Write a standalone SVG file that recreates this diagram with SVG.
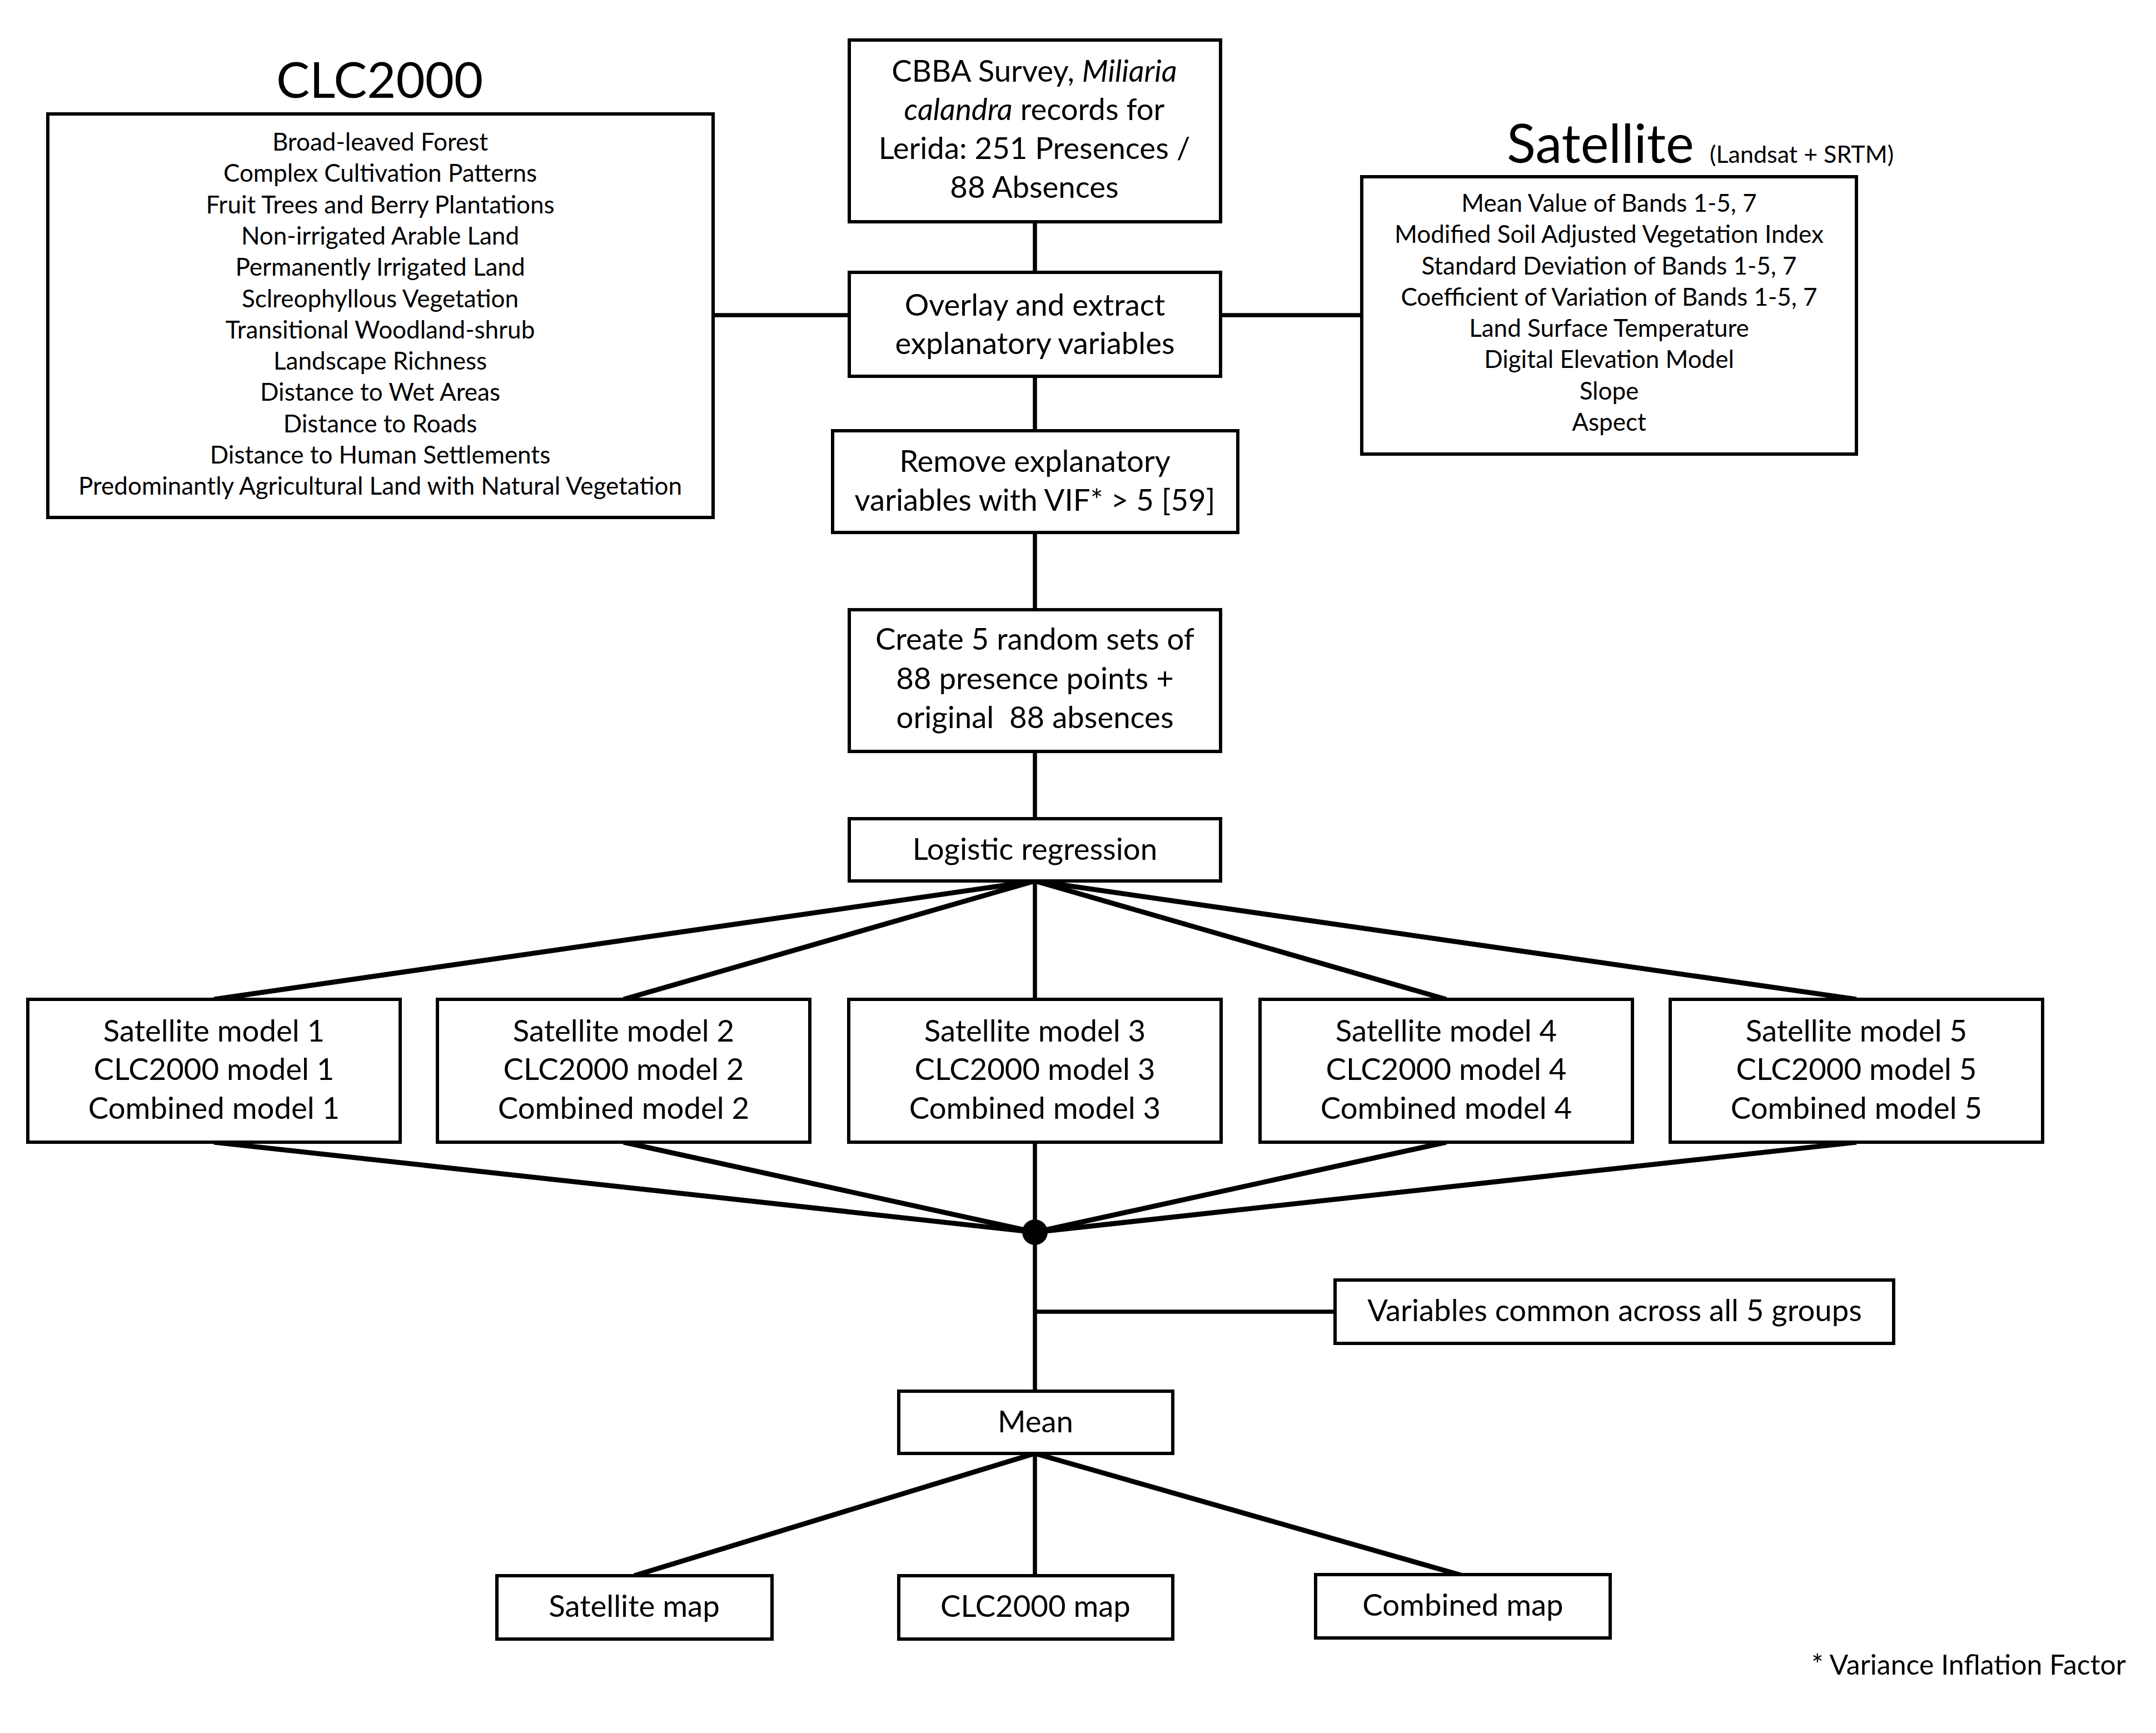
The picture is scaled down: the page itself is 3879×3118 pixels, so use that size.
<svg xmlns="http://www.w3.org/2000/svg" width="3879" height="3118" viewBox="0 0 3879 3118">
<style>
.box{fill:#fff;stroke:#000;stroke-width:6}
.t{font-family:Lato,"Open Sans","Liberation Sans",sans-serif;font-size:54.5px;fill:#000;text-anchor:middle}
.l{font-family:Lato,"Open Sans","Liberation Sans",sans-serif;font-size:44px;fill:#000;text-anchor:middle}
.title{font-family:Lato,"Open Sans","Liberation Sans",sans-serif;font-size:96px;fill:#000}
.c{stroke:#000;stroke-width:7.5;fill:none}
.d{stroke:#000;stroke-width:9;fill:none}
</style>
<rect width="3879" height="3118" fill="#fff"/>
<g id="connectors">
<line class="c" x1="1862" y1="399" x2="1862" y2="490"/>
<line class="c" x1="1283" y1="567" x2="1528" y2="567"/>
<line class="c" x1="2196" y1="567" x2="2450" y2="567"/>
<line class="c" x1="1862" y1="677" x2="1862" y2="775"/>
<line class="c" x1="1862" y1="958" x2="1862" y2="1097"/>
<line class="c" x1="1862" y1="1352" x2="1862" y2="1473"/>
<line class="d" x1="1862" y1="1585" x2="385" y2="1798"/>
<line class="d" x1="1862" y1="1585" x2="1122" y2="1798"/>
<line class="c" x1="1862" y1="1585" x2="1862" y2="1798"/>
<line class="d" x1="1862" y1="1585" x2="2602" y2="1798"/>
<line class="d" x1="1862" y1="1585" x2="3340" y2="1798"/>
<line class="d" x1="385" y1="2055" x2="1862" y2="2217"/>
<line class="d" x1="1122" y1="2055" x2="1862" y2="2217"/>
<line class="c" x1="1862" y1="2055" x2="1862" y2="2217"/>
<line class="d" x1="2602" y1="2055" x2="1862" y2="2217"/>
<line class="d" x1="3340" y1="2055" x2="1862" y2="2217"/>
<circle cx="1862" cy="2217" r="23" fill="#000"/>
<line class="c" x1="1862" y1="2217" x2="1862" y2="2503"/>
<line class="c" x1="1862" y1="2360" x2="2402" y2="2360"/>
<line class="d" x1="1862" y1="2615" x2="1141" y2="2835"/>
<line class="c" x1="1862" y1="2615" x2="1862" y2="2835"/>
<line class="d" x1="1862" y1="2615" x2="2632" y2="2835"/>
</g>
<g id="clc2000">
<text class="title" x="683" y="176" style="text-anchor:middle;font-size:90px">CLC2000</text>
<rect class="box" x="86" y="205" width="1197" height="726"/>
<text class="l" x="684" y="271">Broad-leaved Forest</text>
<text class="l" x="684" y="327">Complex Cultivation Patterns</text>
<text class="l" x="684" y="384">Fruit Trees and Berry Plantations</text>
<text class="l" x="684" y="440">Non-irrigated Arable Land</text>
<text class="l" x="684" y="496">Permanently Irrigated Land</text>
<text class="l" x="684" y="553">Sclreophyllous Vegetation</text>
<text class="l" x="684" y="609">Transitional Woodland-shrub</text>
<text class="l" x="684" y="665">Landscape Richness</text>
<text class="l" x="684" y="721">Distance to Wet Areas</text>
<text class="l" x="684" y="778">Distance to Roads</text>
<text class="l" x="684" y="834">Distance to Human Settlements</text>
<text class="l" x="684" y="890">Predominantly Agricultural Land with Natural Vegetation</text>
</g>
<g id="cbba">
<rect class="box" x="1528" y="72" width="668" height="327"/>
<text class="t" x="1861" y="147">CBBA Survey, <tspan font-style="italic">Miliaria</tspan></text>
<text class="t" x="1861" y="216"><tspan font-style="italic">calandra</tspan> records for</text>
<text class="t" x="1861" y="286">Lerida: 251 Presences /</text>
<text class="t" x="1861" y="356">88 Absences</text>
</g>
<g id="satellite">
<text class="title" x="2711" y="293">Satellite</text>
<text x="3076" y="293" style="font-family:Lato,'Open Sans','Liberation Sans',sans-serif;font-size:43px">(Landsat + SRTM)</text>
<rect class="box" x="2450" y="318" width="890" height="499"/>
<text class="l" x="2895" y="381">Mean Value of Bands 1-5, 7</text>
<text class="l" x="2895" y="437">Modified Soil Adjusted Vegetation Index</text>
<text class="l" x="2895" y="494">Standard Deviation of Bands 1-5, 7</text>
<text class="l" x="2895" y="550">Coefficient of Variation of Bands 1-5, 7</text>
<text class="l" x="2895" y="606">Land Surface Temperature</text>
<text class="l" x="2895" y="662">Digital Elevation Model</text>
<text class="l" x="2895" y="719">Slope</text>
<text class="l" x="2895" y="775">Aspect</text>
</g>
<g id="overlay">
<rect class="box" x="1528" y="490" width="668" height="187"/>
<text class="t" x="1862" y="568">Overlay and extract</text>
<text class="t" x="1862" y="637">explanatory variables</text>
</g>
<g id="remove">
<rect class="box" x="1498" y="775" width="729" height="183"/>
<text class="t" x="1862" y="849">Remove explanatory</text>
<text class="t" x="1862" y="919">variables with VIF* &gt; 5 [59]</text>
</g>
<g id="create">
<rect class="box" x="1528" y="1097" width="668" height="255"/>
<text class="t" x="1862" y="1169">Create 5 random sets of</text>
<text class="t" x="1862" y="1240">88 presence points +</text>
<text class="t" x="1862" y="1310" xml:space="preserve">original  88 absences</text>
</g>
<g id="logistic">
<rect class="box" x="1528" y="1473" width="668" height="112"/>
<text class="t" x="1862" y="1547">Logistic regression</text>
</g>
<g id="model1">
<rect class="box" x="50" y="1798" width="670" height="257"/>
<text class="t" x="385" y="1874">Satellite model 1</text>
<text class="t" x="385" y="1943">CLC2000 model 1</text>
<text class="t" x="385" y="2013">Combined model 1</text>
</g>
<g id="model2">
<rect class="box" x="787" y="1798" width="670" height="257"/>
<text class="t" x="1122" y="1874">Satellite model 2</text>
<text class="t" x="1122" y="1943">CLC2000 model 2</text>
<text class="t" x="1122" y="2013">Combined model 2</text>
</g>
<g id="model3">
<rect class="box" x="1527" y="1798" width="670" height="257"/>
<text class="t" x="1862" y="1874">Satellite model 3</text>
<text class="t" x="1862" y="1943">CLC2000 model 3</text>
<text class="t" x="1862" y="2013">Combined model 3</text>
</g>
<g id="model4">
<rect class="box" x="2267" y="1798" width="670" height="257"/>
<text class="t" x="2602" y="1874">Satellite model 4</text>
<text class="t" x="2602" y="1943">CLC2000 model 4</text>
<text class="t" x="2602" y="2013">Combined model 4</text>
</g>
<g id="model5">
<rect class="box" x="3005" y="1798" width="670" height="257"/>
<text class="t" x="3340" y="1874">Satellite model 5</text>
<text class="t" x="3340" y="1943">CLC2000 model 5</text>
<text class="t" x="3340" y="2013">Combined model 5</text>
</g>
<g id="common">
<rect class="box" x="2402" y="2303" width="1005" height="114"/>
<text class="t" x="2905" y="2377">Variables common across all 5 groups</text>
</g>
<g id="mean">
<rect class="box" x="1617" y="2503" width="493" height="112"/>
<text class="t" x="1863" y="2577">Mean</text>
</g>
<g id="satmap">
<rect class="box" x="894" y="2835" width="495" height="114"/>
<text class="t" x="1141" y="2909">Satellite map</text>
</g>
<g id="clcmap">
<rect class="box" x="1617" y="2835" width="493" height="114"/>
<text class="t" x="1863" y="2909">CLC2000 map</text>
</g>
<g id="combmap">
<rect class="box" x="2367" y="2833" width="530" height="114"/>
<text class="t" x="2632" y="2907">Combined map</text>
</g>
<g id="footnote">
<text x="3825" y="3013" style="font-family:Lato,'Open Sans','Liberation Sans',sans-serif;font-size:50px;text-anchor:end">* Variance Inflation Factor</text>
</g>
</svg>
